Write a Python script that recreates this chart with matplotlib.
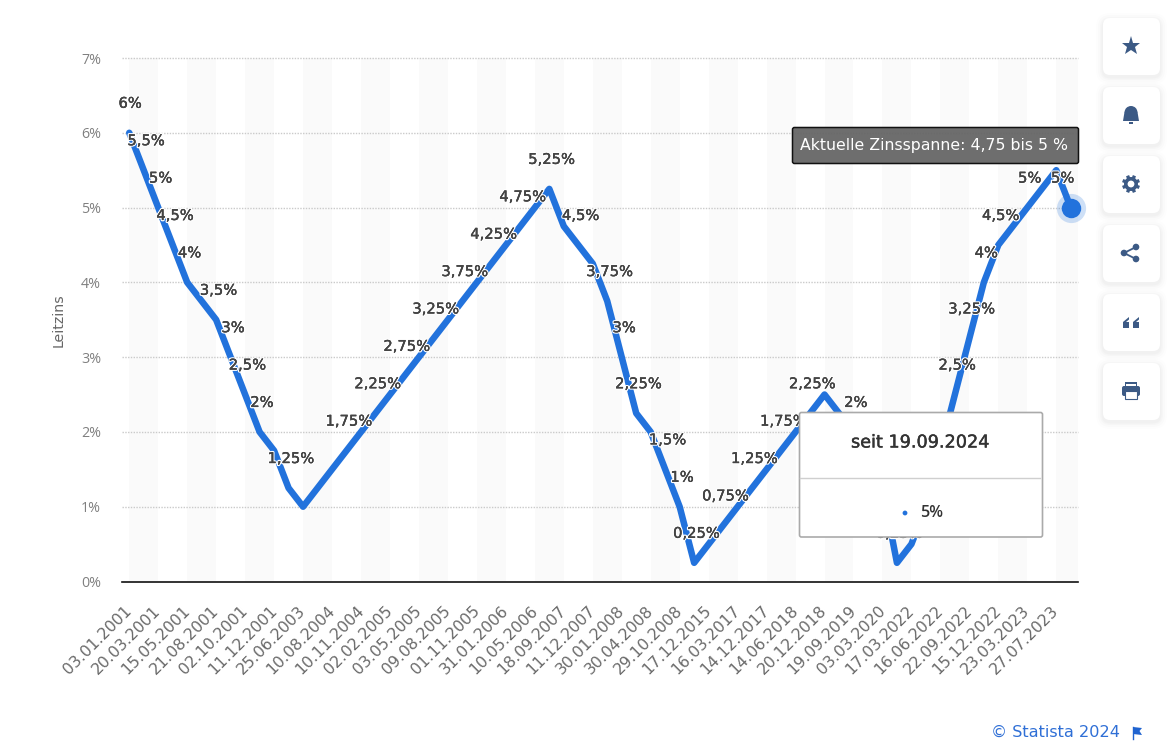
import matplotlib
matplotlib.use('Agg')
import matplotlib.pyplot as plt
import matplotlib.patheffects as pe
import numpy as np
from matplotlib.patches import FancyBboxPatch, Circle, Rectangle, Polygon, Wedge
from matplotlib.transforms import ScaledTranslation

plt.rcParams['font.family'] = ['DejaVu Sans']

# Leitzins, one value per rate decision
values = [6, 5.5, 5, 4.5, 4, 3.75, 3.5, 3, 2.5, 2, 1.75, 1.25, 1,
          1.25, 1.5, 1.75, 2, 2.25, 2.5, 2.75, 3, 3.25, 3.5, 3.75, 4, 4.25,
          4.5, 4.75, 5, 5.25, 4.75, 4.5, 4.25, 3.75, 3, 2.25, 2, 1.5, 1, 0.25,
          0.5, 0.75, 1, 1.25, 1.5, 1.75, 2, 2.25, 2.5, 2.25, 2, 1.75, 1.25, 0.25,
          0.5, 1, 1.75, 2.5, 3.25, 4, 4.5, 4.75, 5, 5.25, 5.5, 5]

tick_labels = ['03.01.2001', '20.03.2001', '15.05.2001', '21.08.2001', '02.10.2001',
               '11.12.2001', '25.06.2003', '10.08.2004', '10.11.2004', '02.02.2005',
               '03.05.2005', '09.08.2005', '01.11.2005', '31.01.2006', '10.05.2006',
               '18.09.2007', '11.12.2007', '30.01.2008', '30.04.2008', '29.10.2008',
               '17.12.2015', '16.03.2017', '14.12.2017', '14.06.2018', '20.12.2018',
               '19.09.2019', '03.03.2020', '17.03.2022', '16.06.2022', '22.09.2022',
               '15.12.2022', '23.03.2023', '27.07.2023']

# only these points show a value label in the chart
labelled = [0, 1, 2, 3, 4, 6, 7, 8, 9, 11, 15, 17, 19, 21, 23, 25, 27, 29, 31, 33,
            34, 35, 37, 38, 39, 41, 43, 45, 47, 50, 53, 57, 58, 59, 60, 62, 65]

y_ticks = [0, 1, 2, 3, 4, 5, 6, 7]

BLUE = '#2272dc'
W, H = 1170, 748

fig = plt.figure(figsize=(W / 100, H / 100), dpi=100, facecolor='white')
ax = fig.add_axes([122 / W, 1 - 581.5 / H, 956 / W, 523.5 / H])
ax.set_xlim(-0.5, len(values) - 0.5)
ax.set_ylim(0, 7)
ax.patch.set_alpha(0)

# alternating bands
for i in range(0, len(values), 4):
    ax.axvspan(i, min(i + 2, len(values) - 0.5), color='#fafafa', lw=0, zorder=0)

for v in y_ticks[1:]:
    ax.axhline(v, color='#cacaca', lw=1, ls=(0, (1, 1)), zorder=1, clip_on=False)

for s in ['top', 'left', 'right']:
    ax.spines[s].set_visible(False)
ax.spines['bottom'].set_color('#111111')
ax.spines['bottom'].set_linewidth(1.2)

xs = list(range(len(values)))
ax.plot(xs, values, color=BLUE, lw=4.7, solid_joinstyle='round', solid_capstyle='round',
        zorder=3, clip_on=False)

# end marker with halo
ax.plot(xs[-1], values[-1], 'o', ms=21, color=BLUE, alpha=0.22, mew=0, zorder=3, clip_on=False)
ax.plot(xs[-1], values[-1], 'o', ms=14, color=BLUE, mew=0, zorder=4, clip_on=False)

# value labels, white outline cuts through the line
for i in labelled:
    txt = f'{values[i]:g}'.replace('.', ',') + '%'
    dx = 2.5
    if i == 0:
        dx = 1
    if i == xs[-1]:
        dx = -8
    ax.annotate(txt, (i, values[i]), xytext=(dx * 0.72, 29.5 * 0.72), textcoords='offset points',
                ha='center', va='center', fontsize=10.6, color='#444444',
                zorder=5, annotation_clip=False,
                path_effects=[pe.withStroke(linewidth=2, foreground='white'),
                              pe.Stroke(linewidth=0.2, foreground='#444444'), pe.Normal()])

ax.set_yticks(y_ticks)
ax.set_yticklabels([f'{v}%' for v in y_ticks], fontsize=10.3, color='#808080', family='Open Sans')
ax.set_xticks(xs[::2])
ax.set_xticklabels(tick_labels, rotation=45, ha='right', va='top', rotation_mode='anchor',
                   fontsize=11.3, color='#6a6a6a')
ax.tick_params(axis='both', length=0)
ax.tick_params(axis='y', pad=15)
ax.tick_params(axis='x', pad=15.5)
# labels sit a little left of their category
shift = ScaledTranslation(-5 / 100, 0, fig.dpi_scale_trans)
for lab in ax.get_xticklabels():
    lab.set_transform(lab.get_transform() + shift)
ax.set_ylabel('Leitzins', fontsize=10.2, color='#666666', va='center')
ax.yaxis.set_label_coords((59 - 122) / 956, (581.5 - 320) / 523.5)

# page furniture in pixel coordinates
ov = fig.add_axes([0, 0, 1, 1], zorder=10)
ov.set_xlim(0, W)
ov.set_ylim(H, 0)
ov.axis('off')
ov.patch.set_alpha(0)

# dark note
ov.add_patch(FancyBboxPatch((792.5, 127.5), 286, 36, boxstyle='round,pad=0,rounding_size=2',
                            fc=(0.40, 0.40, 0.40, 0.95), ec='#111111', lw=1.1, zorder=2))
ov.text(934, 145.5, 'Aktuelle Zinsspanne: 4,75 bis 5 %', color='white', fontsize=11.35,
        ha='center', va='center', zorder=3)

# tooltip
ov.add_patch(FancyBboxPatch((799.5, 412.5), 243, 124.5, boxstyle='round,pad=0,rounding_size=2',
                            fc='white', ec='#aaaaaa', lw=1.2, zorder=2))
ov.plot([800, 1040], [477.5, 477.5], color='#cfcfcf', lw=1, zorder=3)
ov.text(920, 442.5, 'seit 19.09.2024', color='#333333', fontsize=12.7, ha='center', va='center', zorder=3,
        path_effects=[pe.Stroke(linewidth=0.3, foreground='#333333'), pe.Normal()])
ov.add_patch(Circle((905, 513), 2.4, fc=BLUE, ec='none', zorder=3))
ov.text(920, 513, '5%', color='#333333', fontsize=11.6, fontweight='semibold', family='Open Sans',
        ha='left', va='center', zorder=3)

# side buttons
ICON = '#3c5a85'
btn_tops = [18, 87, 156, 225, 294, 363]
for top in btn_tops:
    for k, a in zip([7, 5, 3, 1.5], [0.008, 0.01, 0.014, 0.02]):
        ov.add_patch(FancyBboxPatch((1103 - k, top - k + 2), 57 + 2 * k, 57 + 2 * k,
                                    boxstyle=f'round,pad=0,rounding_size={7 + k}',
                                    fc='black', ec='none', alpha=a, zorder=1))
    ov.add_patch(FancyBboxPatch((1103, top), 57, 57, boxstyle='round,pad=0,rounding_size=7',
                                fc='white', ec='none', zorder=2))

cx = 1131
# star
ov.plot(cx, 46, marker='*', ms=14, color=ICON, mew=0, zorder=3)
# bell
ov.add_patch(Wedge((cx, 112.5), 6.5, 180, 360, fc=ICON, ec='none', zorder=3))
ov.add_patch(Polygon([(cx - 6.5, 112), (cx + 6.5, 112), (cx + 8, 121), (cx - 8, 121)],
                     fc=ICON, ec='none', zorder=3))
ov.add_patch(Rectangle((cx - 2, 122), 4, 1.5, fc=ICON, ec='none', zorder=3))
# gear
for ang in np.arange(0, 360, 45) + 22.5:
    dx, dy = np.cos(np.radians(ang)), np.sin(np.radians(ang))
    ov.plot([cx + 6 * dx, cx + 9 * dx], [184 + 6 * dy, 184 + 9 * dy], color=ICON, lw=2.4,
            solid_capstyle='butt', zorder=3)
ov.add_patch(Circle((cx, 184), 7, fc=ICON, ec='none', zorder=3))
ov.add_patch(Circle((cx, 184), 3.4, fc='white', ec='none', zorder=4))
# share
for px, py in [(1124, 253), (1136, 247), (1136, 259)]:
    ov.add_patch(Circle((px, py), 3.3, fc=ICON, ec='none', zorder=3))
ov.plot([1136, 1124, 1136], [247, 253, 259], color=ICON, lw=1.3, zorder=3)
# quote
for qx in [1123, 1133]:
    ov.add_patch(Rectangle((qx, 322), 6, 6, fc=ICON, ec='none', zorder=3))
    ov.add_patch(Polygon([(qx, 322), (qx + 6, 317), (qx + 6, 319.5), (qx + 3, 322)],
                         fc=ICON, ec='none', zorder=3))
# printer
ov.add_patch(FancyBboxPatch((1122, 386), 18, 10, boxstyle='round,pad=0,rounding_size=2',
                            fc=ICON, ec='none', zorder=3))
ov.add_patch(Rectangle((1125, 382), 12, 5, fc=ICON, ec='none', zorder=3))
ov.add_patch(Rectangle((1126, 383.5), 10, 2.5, fc='white', ec='none', zorder=4))
ov.add_patch(Rectangle((1125, 391), 12, 8, fc='white', ec=ICON, lw=0.8, zorder=4))

# footer
ov.text(1120, 732.5, '© Statista 2024', color='#2f6fd6', fontsize=11.6, ha='right', va='center')
ov.plot([1133, 1133], [727, 739], color='#1f63d0', lw=1, zorder=3)
ov.add_patch(Polygon([(1133, 727), (1142, 728), (1139.5, 731), (1142, 735), (1133, 734)],
                     fc='#1f63d0', ec='none', zorder=3))

fig.savefig('out.png', dpi=100, facecolor='white')
